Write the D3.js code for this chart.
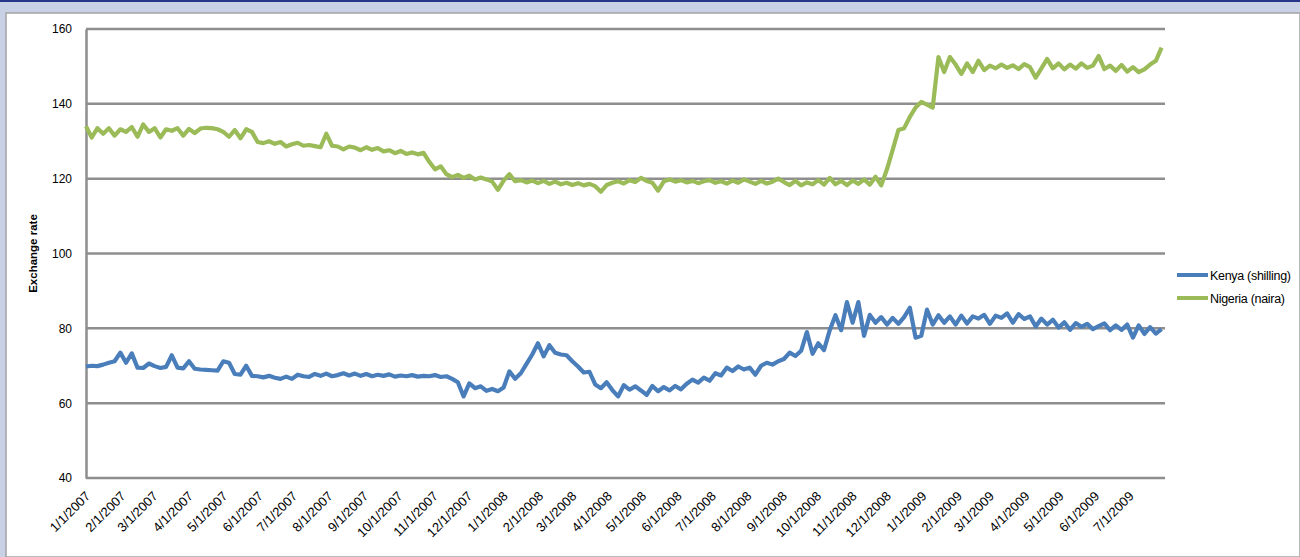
<!DOCTYPE html>
<html>
<head>
<meta charset="utf-8">
<script src="https://cdn.jsdelivr.net/npm/d3@7"></script>
<style>
  body { margin: 0; background: #c9d1e7; }
  svg { display: block; font-family: "Liberation Sans", Arial, sans-serif; }
</style>
</head>
<body>
<svg id="chart" width="1300" height="557"></svg>
<script>
// series are sampled every 5 days starting 1/1/2007
const startDate = new Date(2007, 0, 1);
const stepDays = 5;

const nigeria = [
  134, 131, 133.5, 132, 133.5, 131.5, 133.2, 132.5, 133.8, 131.2,
  134.5, 132.5, 133.5, 131, 133.2, 132.8, 133.5, 131.5, 133.3, 132.2,
  133.4, 133.6, 133.5, 133.2, 132.5, 131.2, 133, 130.8, 133.2, 132.5,
  129.8, 129.5, 130, 129.3, 129.8, 128.6, 129.2, 129.6, 128.8, 129,
  128.7, 128.4, 132, 128.8, 128.6, 127.8, 128.6, 128.3, 127.6, 128.4,
  127.7, 128.2, 127.3, 127.6, 126.8, 127.4, 126.6, 127, 126.5, 126.9,
  124.5, 122.5, 123.3, 121.2, 120.4, 121, 120.2, 120.8, 119.8, 120.3,
  119.8, 119.2, 117, 119.5, 121.2, 119.3, 119.6, 119, 119.5, 118.8,
  119.4, 118.6, 119.2, 118.5, 118.9, 118.3, 118.8, 118.2, 118.6, 118,
  116.5, 118.3, 118.9, 119.3, 118.7, 119.6, 119.1, 120.2, 119.4, 118.9,
  116.8, 119.3, 119.8, 119.2, 119.6, 119, 119.4, 118.8, 119.3, 119.6,
  118.9, 119.3, 118.7, 119.5, 118.9, 119.8, 119.2, 118.6, 119.4, 118.7,
  119.2, 120, 119.1, 118.3, 119.4, 118.2, 119, 118.5, 119.6, 118.4,
  120.2, 118.5, 119.4, 118.3, 119.5, 118.6, 119.8, 118.4, 120.5, 118.2,
  122.5, 127.7, 133, 133.5, 136.5, 139, 140.5, 139.8, 139, 152.5,
  148.5, 152.5, 150.5, 148, 150.8, 148.5, 151.5, 149, 150.2, 149.5,
  150.5, 149.6, 150.3, 149.3, 150.6, 149.8, 147, 149.5, 152, 149.5,
  150.8, 149.2, 150.5, 149.4, 150.8, 149.6, 150.2, 152.8, 149.3, 150.2,
  148.8, 150.4, 148.6, 149.8, 148.5, 149.2, 150.5, 151.5, 155
];

const kenya = [
  69.8, 70, 69.9, 70.3, 70.8, 71.2, 73.5, 70.8, 73.3, 69.5,
  69.4, 70.6, 69.9, 69.4, 69.7, 72.8, 69.5, 69.3, 71.2, 69.2,
  69, 68.9, 68.8, 68.7, 71.2, 70.8, 67.8, 67.6, 70, 67.3,
  67.2, 66.9, 67.3, 66.8, 66.5, 67.1, 66.5, 67.6, 67.2, 67,
  67.8, 67.3, 67.9, 67.2, 67.5, 68, 67.4, 67.9, 67.3, 67.8,
  67.2, 67.6, 67.3, 67.7, 67.1, 67.4, 67.2, 67.5, 67.1, 67.3,
  67.2, 67.5, 67, 67.2, 66.5, 65.6, 61.8, 65.3, 64, 64.5,
  63.3, 63.8, 63.2, 64.2, 68.5, 66.5, 68, 70.5, 73, 76,
  72.5, 75.5, 73.5, 73, 72.8, 71.2, 69.8, 68.2, 68.4, 65,
  64, 65.6, 63.5, 61.8, 64.8, 63.6, 64.5, 63.4, 62.2, 64.6,
  63.2, 64.3, 63.4, 64.6, 63.7, 65.2, 66.3, 65.5, 66.8, 66,
  68, 67.4, 69.5, 68.6, 69.8, 69, 69.5, 67.6, 70, 70.8,
  70.3, 71.2, 71.8, 73.5, 72.6, 74, 79, 73.2, 76, 74.2,
  79.5, 83.5, 79.5, 87, 81.5, 87, 78, 83.6, 81.5, 83,
  81, 82.8, 81.2, 83, 85.5, 77.5, 78, 85, 81, 83.5,
  81.5, 83.2, 81, 83.4, 81.3, 83.2, 82.6, 83.6, 81.2, 83.4,
  82.8, 84, 81.5, 83.8, 82.5, 83.2, 80.5, 82.6, 81, 82.3,
  80.2, 81.6, 79.6, 81.4, 80.4, 81.2, 79.8, 80.6, 81.3, 79.5,
  80.8, 79.6, 81, 77.5, 80.8, 78.5, 80.3, 78.6, 79.8
];

const seriesNames = ["Kenya (shilling)", "Nigeria (naira)"];
const seriesColors = ["#4a7ebb", "#9bbb59"];
const yTicks = [40, 60, 80, 100, 120, 140, 160];
const monthLabels = [
  "1/1/2007", "2/1/2007", "3/1/2007", "4/1/2007", "5/1/2007", "6/1/2007",
  "7/1/2007", "8/1/2007", "9/1/2007", "10/1/2007", "11/1/2007", "12/1/2007",
  "1/1/2008", "2/1/2008", "3/1/2008", "4/1/2008", "5/1/2008", "6/1/2008",
  "7/1/2008", "8/1/2008", "9/1/2008", "10/1/2008", "11/1/2008", "12/1/2008",
  "1/1/2009", "2/1/2009", "3/1/2009", "4/1/2009", "5/1/2009", "6/1/2009",
  "7/1/2009"
];

const parseLabel = d3.timeParse("%m/%d/%Y");
const dateAt = i => d3.timeDay.offset(startDate, i * stepDays);

let minx = 86;
let maxx = 1165;
let miny = 29;
let maxy = 478;

let xScale = d3.scaleTime()
  .domain([startDate, new Date(2009, 7, 1)])
  .range([minx, maxx]);
let yScale = d3.scaleLinear()
  .domain([40, 160])
  .range([maxy, miny]);

let svg = d3.select("#chart");

// frame
svg.append("rect").attr("x", 0).attr("y", 0).attr("width", 1300).attr("height", 2).attr("fill", "#26348c");
svg.append("rect").attr("x", 6).attr("y", 13).attr("width", 1294).attr("height", 544)
  .attr("fill", "#ffffff").attr("stroke", "#a3a3a3").attr("stroke-width", 1.5);

// gridlines
svg.append("g")
  .selectAll("line")
  .data(yTicks)
  .join("line")
  .attr("x1", minx).attr("x2", maxx)
  .attr("y1", d => yScale(d)).attr("y2", d => yScale(d))
  .attr("stroke", "#8e8e8e")
  .attr("stroke-width", 2.5);

// y axis
let y_axis = d3.axisLeft(yScale).tickValues(yTicks).tickSize(0).tickPadding(14);
let gy = svg.append("g")
  .attr("transform", `translate(${minx}, 0)`)
  .call(y_axis);
gy.select(".domain").attr("stroke", "#8e8e8e").attr("stroke-width", 2.5);
gy.selectAll("text").attr("font-size", 12).attr("fill", "#000")
  .attr("font-family", "Liberation Sans, Arial, sans-serif");

svg.append("text")
  .attr("transform", `translate(37, ${(miny + maxy) / 2}) rotate(-90)`)
  .attr("text-anchor", "middle")
  .attr("font-size", 11.5)
  .attr("font-weight", "bold")
  .text("Exchange rate");

// x labels
svg.append("g")
  .selectAll("text")
  .data(monthLabels)
  .join("text")
  .attr("transform", d => `translate(${xScale(parseLabel(d)) + 5}, ${maxy + 19}) rotate(-45)`)
  .attr("text-anchor", "end")
  .attr("font-size", 13)
  .text(d => d);

// series lines
let line = d3.line()
  .x((d, i) => xScale(dateAt(i)))
  .y(d => yScale(d));

[kenya, nigeria].forEach((s, k) => {
  svg.append("path")
    .attr("fill", "none")
    .attr("stroke", seriesColors[k])
    .attr("stroke-width", 4.2)
    .attr("stroke-linejoin", "round")
    .attr("d", line(s));
});

// legend
let legend = svg.append("g")
  .selectAll("g")
  .data(seriesNames)
  .join("g")
  .attr("transform", (d, i) => `translate(1177, ${275 + i * 23})`);
legend.append("line")
  .attr("x1", 0).attr("x2", 31)
  .attr("stroke", (d, i) => seriesColors[i])
  .attr("stroke-width", 4);
legend.append("text")
  .attr("x", 33).attr("y", 4.5)
  .attr("font-size", 12.5)
  .attr("letter-spacing", -0.3)
  .text(d => d);
</script>
</body>
</html>
